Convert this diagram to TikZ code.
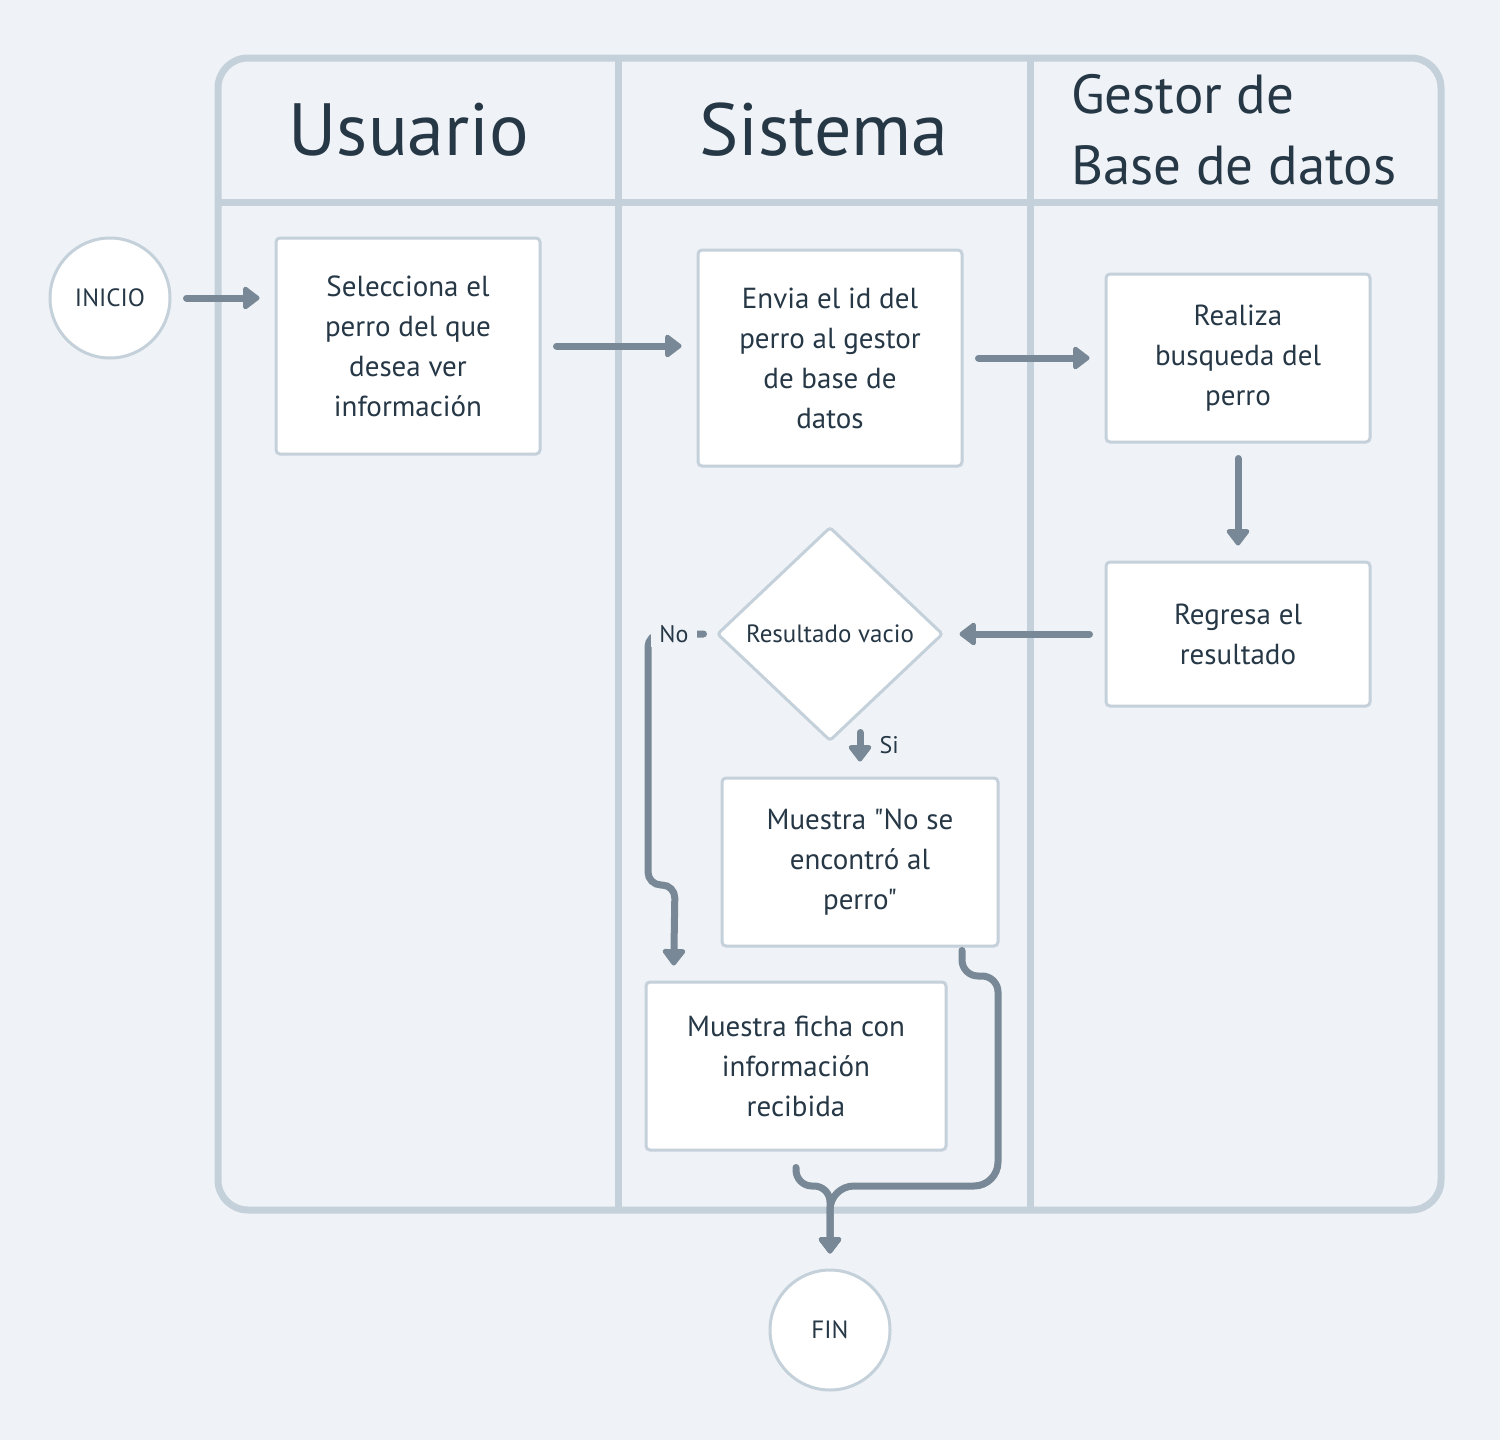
\documentclass[tikz,border=0pt]{standalone}
\usepackage{fontspec}
\setmainfont{PT Sans}[Ligatures=TeXOff]
\usetikzlibrary{arrows.meta,positioning,shapes.geometric}

\definecolor{fondo}{HTML}{EFF3F7}
\definecolor{linea}{HTML}{C4D0DA}
\definecolor{gris}{HTML}{788896}
\definecolor{texto}{HTML}{263746}

\begin{document}
\begin{tikzpicture}[
        x=1pt, y=-1pt,
        carril/.style={draw=linea, line width=7pt},
        cabecera/.style={text=texto, inner sep=0pt, font=\fontsize{74}{80}\selectfont},
        caja/.style={draw=linea, fill=white, line width=3pt, rounded corners=4pt, align=center, text=texto, inner sep=0pt, font=\fontsize{29}{40}\selectfont},
        circulo/.style={circle, draw=linea, fill=white, line width=3pt, minimum size=120pt, inner sep=0pt, text=texto, font=\fontsize{25}{28}\selectfont},
        decision/.style={diamond, draw=linea, fill=white, line width=3pt, rounded corners=3pt, minimum width=226pt, minimum height=214pt, inner sep=0pt, text=texto, font=\fontsize{25}{28}\selectfont},
        etiqueta/.style={fill=fondo, text=texto, inner xsep=8pt, inner ysep=4pt, font=\fontsize{24}{28}\selectfont},
        flecha/.style={draw=gris, line width=7pt, line cap=round, shorten <=15pt, shorten >=15pt, -{Triangle[width=26pt, length=18pt, round]}}
    ]
        \fill[fondo] (0,0) rectangle (1500,1440);
        \useasboundingbox (0,0) rectangle (1500,1440);

        % carriles
        \draw[carril, rounded corners=30pt] (218,58) rectangle (1441,1210);
        \draw[carril] (218,202) -- (1441,202);
        \draw[carril] (618,58) -- (618,1210);
        \draw[carril] (1030,58) -- (1030,1210);

        \node[cabecera] (usuario) at (409,130) {Usuario};
        \node[cabecera] (sistema) at (824,130) {Sistema};
        \node[cabecera, anchor=west, align=left, font=\fontsize{55}{71}\selectfont] (gestor) at (1071,130) {Gestor de\\Base de datos};

        % nodos
        \node[circulo] (inicio) at (110,298) {INICIO};
        \node[caja, minimum width=264pt, minimum height=216pt] (sel) at (408,346) {Selecciona el\\perro del que\\desea ver\\información};
        \node[caja, minimum width=264pt, minimum height=216pt] (env) at (830,358) {Envia el id del\\perro al gestor\\de base de\\datos};
        \node[caja, minimum width=264pt, minimum height=168pt] (bus) at (1238,358) {Realiza\\busqueda del\\perro};
        \node[caja, minimum width=264pt, minimum height=144pt] (reg) at (1238,634) {Regresa el\\resultado};
        \node[decision] (dec) at (830,634) {Resultado vacio};
        \node[caja, minimum width=276pt, minimum height=168pt] (mns) at (860,862) {Muestra "No se\\encontró al\\perro"};
        \node[caja, minimum width=300pt, minimum height=168pt] (fic) at (796,1066) {Muestra ficha con\\información\\recibida};
        \node[circulo] (fin) at (830,1330) {FIN};

        % conectores
        \draw[flecha] (inicio.east) -- (inicio.east -| sel.west);
        \draw[flecha] (sel.east) -- (sel.east -| env.west);
        \draw[flecha] (env) -- (bus);
        \draw[flecha] (bus) -- (reg);
        \draw[flecha] (reg) -- (dec);
        \draw[flecha, shorten <=0pt] ([yshift=10pt]dec.south -| mns.north) -- (mns.north);
        \node[text=texto, anchor=west, font=\fontsize{24}{28}\selectfont] (si) at (876,745) {Si};
        \draw[flecha, shorten <=12pt, rounded corners=13pt] (dec.west) -- (648,634) -- (648,885) -- (675,885) -- ([xshift=29pt]fic.north west);
        \node[etiqueta] (no) at (674,634) {No};
        \draw[flecha, shorten <=3pt, rounded corners=16pt] ([xshift=102pt]mns.south) -- (962,976) -- (998,976) [rounded corners=24pt] -- (998,1186) -- (830,1186) -- (fin.north);
        \draw[flecha, shorten <=16pt, rounded corners=16pt] (fic.south) -- (796,1186) -- (830,1186) -- (fin.north);
    \end{tikzpicture}
\end{document}
